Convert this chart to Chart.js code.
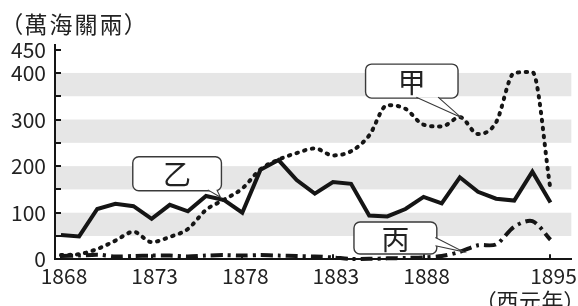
<!DOCTYPE html>
<html>
<head>
<meta charset="utf-8">
<script src="https://cdn.jsdelivr.net/npm/chart.js@4.4.0/dist/chart.umd.min.js"></script>
<style>
html, body { margin: 0; padding: 0; background: #fff; }
#wrap { position: relative; width: 578px; height: 306px; overflow: hidden; }
#chart { position: absolute; left: 0; top: 0; }
.unit { position: absolute; font-family: "Noto Sans CJK TC"; color: #222; white-space: nowrap; line-height: 1; font-feature-settings: "palt"; }
#unitY { left: 11px; top: 12px; font-size: 23px; letter-spacing: 2px; }
#unitX { left: 485px; top: 288px; font-size: 22px; letter-spacing: 0.5px; }
</style>
</head>
<body>
<div id="wrap">
  <canvas id="chart" width="578" height="306"></canvas>
  <div class="unit" id="unitY">（萬海關兩）</div>
  <div class="unit" id="unitX">（西元年）</div>
</div>
<script>
// Years on the x axis
const years = [1868, 1869, 1870, 1871, 1872, 1873, 1874, 1875, 1876, 1877,
               1878, 1879, 1880, 1881, 1882, 1883, 1884, 1885, 1886, 1887,
               1888, 1889, 1890, 1891, 1892, 1893, 1894, 1895];

// 甲 (dotted)
const seriesKou = [9, 11, 22, 40, 59, 37, 48, 65, 106, 128,
                   152, 193, 214, 228, 238, 223, 232, 266, 331, 323,
                   289, 285, 305, 269, 294, 400, 402, 150];

// 乙 (solid)
const seriesOtsu = [52, 49, 108, 119, 114, 87, 117, 103, 136, 127,
                    100, 192, 213, 170, 141, 166, 162, 94, 92, 108,
                    134, 120, 176, 145, 130, 126, 188, 122];

// 丙 (dash-dot)
const seriesHei = [7, 8, 10, 6, 7, 8, 8, 6, 8, 9,
                   8, 9, 8, 7, 6, 4, 1, 1, 2, 3,
                   4, 7, 16, 30, 32, 70, 82, 42];

// Tick labels
const xTickYears = [1868, 1873, 1878, 1883, 1888, 1895];
const yTickLabels = [0, 100, 200, 300, 400, 450];
const yTickMarks = [50, 100, 150, 200, 250, 300, 350, 400, 450];
const grayBands = [[50, 100], [150, 200], [250, 300], [350, 400]];

// Callout boxes, given in data units
const callouts = [
    { text: '甲', box: [1884.8, 1889.9, 346, 419], base: [[1887.6, 348], [1888.8, 348]], tip: [1890.05, 305] },
    { text: '乙', box: [1871.96, 1876.85, 147, 220], base: [[1876.1, 149], [1876.6, 149]], tip: [1876.8, 133] },
    { text: '丙', box: [1884.16, 1888.73, 11.4, 80], base: [[1888.65, 47], [1888.65, 29]], tip: [1890.2, 16] }
];

const FONT = '"Noto Sans CJK TC", "Noto Sans CJK JP", sans-serif';
const INK = '#151515';

function toPoints(values) {
    return values.map((v, i) => ({ x: years[i], y: v }));
}

const decorPlugin = {
    id: 'decor',
    beforeDraw(chart) {
        const { ctx, chartArea, scales } = chart;
        ctx.save();
        ctx.fillStyle = '#e6e6e6';
        grayBands.forEach(([lo, hi]) => {
            const yTop = scales.y.getPixelForValue(hi);
            const yBot = scales.y.getPixelForValue(lo);
            ctx.fillRect(chartArea.left, yTop, chartArea.right - chartArea.left, yBot - yTop);
        });
        ctx.restore();
    },
    afterDraw(chart) {
        const { ctx, chartArea, scales } = chart;
        const xs = scales.x, ys = scales.y;
        ctx.save();
        // inner tick marks
        ctx.strokeStyle = INK;
        ctx.lineWidth = 2;
        yTickMarks.forEach(v => {
            const y = Math.round(ys.getPixelForValue(v));
            ctx.beginPath();
            ctx.moveTo(chartArea.left, y);
            ctx.lineTo(chartArea.left + 6, y);
            ctx.stroke();
        });
        xTickYears.forEach(yr => {
            const x = Math.round(xs.getPixelForValue(yr));
            ctx.beginPath();
            ctx.moveTo(x, chartArea.bottom);
            ctx.lineTo(x, chartArea.bottom - 5);
            ctx.stroke();
        });

        // callouts
        callouts.forEach(c => {
            const l = xs.getPixelForValue(c.box[0]);
            const r = xs.getPixelForValue(c.box[1]);
            const b = ys.getPixelForValue(c.box[2]);
            const t = ys.getPixelForValue(c.box[3]);
            const p1 = [xs.getPixelForValue(c.base[0][0]), ys.getPixelForValue(c.base[0][1])];
            const p2 = [xs.getPixelForValue(c.base[1][0]), ys.getPixelForValue(c.base[1][1])];
            const tp = [xs.getPixelForValue(c.tip[0]), ys.getPixelForValue(c.tip[1])];

            ctx.beginPath();
            ctx.roundRect(l, t, r - l, b - t, 6);
            ctx.fillStyle = '#fff';
            ctx.fill();
            ctx.strokeStyle = '#3a3a3a';
            ctx.lineWidth = 1.4;
            ctx.stroke();

            ctx.beginPath();
            ctx.moveTo(p1[0], p1[1]);
            ctx.lineTo(tp[0], tp[1]);
            ctx.lineTo(p2[0], p2[1]);
            ctx.closePath();
            ctx.fillStyle = '#fff';
            ctx.fill();
            ctx.beginPath();
            ctx.moveTo(p1[0], p1[1]);
            ctx.lineTo(tp[0], tp[1]);
            ctx.lineTo(p2[0], p2[1]);
            ctx.lineWidth = 1.1;
            ctx.stroke();

            ctx.fillStyle = '#222';
            ctx.font = '28px ' + FONT;
            ctx.textAlign = 'center';
            ctx.textBaseline = 'middle';
            ctx.fillText(c.text, (l + r) / 2, (t + b) / 2 + 1);
        });
        ctx.restore();
    }
};

new Chart(document.getElementById('chart'), {
    type: 'line',
    data: {
        datasets: [
            {
                label: '乙',
                data: toPoints(seriesOtsu),
                borderColor: INK,
                borderWidth: 4,
                tension: 0,
                borderJoinStyle: 'miter',
                pointRadius: 0,
                clip: 8
            },
            {
                label: '甲',
                data: toPoints(seriesKou),
                borderColor: INK,
                borderWidth: 4,
                borderDash: [1.5, 6.5],
                borderCapStyle: 'round',
                cubicInterpolationMode: 'monotone',
                pointRadius: 0,
                clip: 8
            },
            {
                label: '丙',
                data: toPoints(seriesHei),
                borderColor: INK,
                borderWidth: 4,
                borderDash: [12, 5, 3, 5],
                tension: 0.3,
                pointRadius: 0,
                clip: 8
            }
        ]
    },
    options: {
        responsive: false,
        animation: false,
        layout: { padding: { top: 45, right: 5, left: 0, bottom: 0 } },
        plugins: {
            legend: { display: false },
            tooltip: { enabled: false },
            title: { display: false }
        },
        scales: {
            x: {
                type: 'linear',
                min: 1867.67,
                max: 1896.15,
                afterBuildTicks: axis => { axis.ticks = xTickYears.map(v => ({ value: v })); },
                afterFit: axis => { axis.height = 46.7; },
                grid: { display: false, drawTicks: false },
                border: { display: true, color: INK, width: 2 },
                ticks: {
                    padding: 4,
                    labelOffset: 3,
                    color: '#222',
                    font: { family: FONT, size: 21 },
                    maxRotation: 0,
                    autoSkip: false,
                    callback: v => String(v)
                }
            },
            y: {
                type: 'linear',
                min: 0,
                max: 460,
                afterBuildTicks: axis => { axis.ticks = yTickLabels.map(v => ({ value: v })); },
                afterFit: axis => { axis.width = 55; },
                grid: { display: false, drawTicks: false },
                border: { display: true, color: INK, width: 2 },
                ticks: {
                    padding: 9,
                    color: '#222',
                    font: { family: FONT, size: 21 },
                    autoSkip: false
                }
            }
        }
    },
    plugins: [decorPlugin]
});
</script>
</body>
</html>
